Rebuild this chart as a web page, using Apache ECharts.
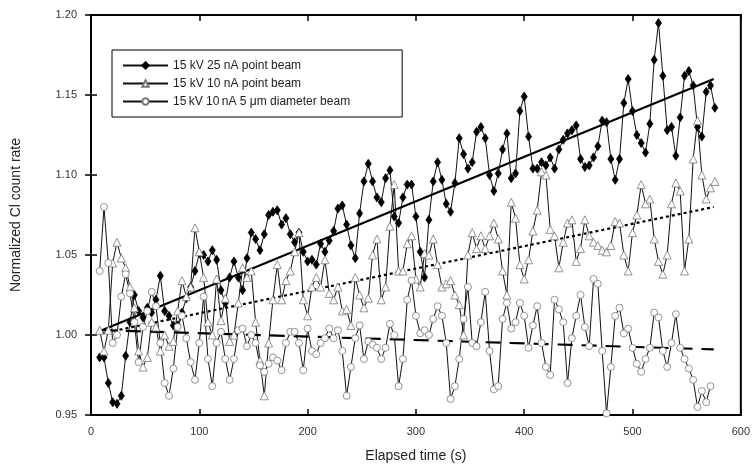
<!DOCTYPE html>
<html>
<head>
<meta charset="utf-8">
<script src="https://cdn.jsdelivr.net/npm/echarts@6.0.0/dist/echarts.min.js"></script>
<style>
  html, body { margin: 0; padding: 0; background: #fff; }
  #main { width: 753px; height: 468px; }
</style>
</head>
<body>
<div id="main"></div>
<script>
// elapsed time (s) of each reading
let times = [8,12,16,20,24,28,32,36,40,44,48,52,56,60,64,68,72,76,80,84,
  88,92,96,100,104,108,112,116,120,124,128,132,136,140,144,148,152,156,160,164,
  168,172,176,180,184,188,192,196,200,204,208,212,216,220,224,228,232,236,240,244,
  248,252,256,260,264,268,272,276,280,284,288,292,296,300,304,308,312,316,320,324,
  328,332,336,340,344,348,352,356,360,364,368,372,376,380,384,388,392,396,400,404,
  408,412,416,420,424,428,432,436,440,444,448,452,456,460,464,468,472,476,480,484,
  488,492,496,500,504,508,512,516,520,524,528,532,536,540,544,548,552,556,560,564,
  568,572,576];

// 15 kV 25 nA point beam
let beam25 = [0.986,0.986,0.970,0.958,0.957,0.962,0.987,1.008,1.025,1.015,
  1.011,1.017,1.014,1.022,1.037,1.015,1.012,1.006,1.006,1.014,
  1.023,1.030,1.040,1.051,1.050,1.046,1.053,1.047,1.028,1.020,
  1.036,1.046,1.036,1.028,1.048,1.064,1.060,1.053,1.063,1.075,
  1.077,1.078,1.069,1.073,1.063,1.058,1.064,1.052,1.046,1.047,
  1.044,1.057,1.052,1.059,1.065,1.079,1.081,1.069,1.056,1.048,
  1.076,1.096,1.107,1.096,1.086,1.083,1.098,1.103,1.074,1.070,
  1.086,1.094,1.094,1.074,1.052,1.036,1.072,1.096,1.108,1.097,
  1.082,1.077,1.095,1.123,1.113,1.104,1.108,1.127,1.130,1.123,
  1.100,1.090,1.101,1.116,1.126,1.098,1.101,1.140,1.149,1.124,
  1.104,1.104,1.108,1.106,1.111,1.104,1.116,1.122,1.126,1.128,
  1.131,1.110,1.105,1.106,1.111,1.118,1.134,1.133,1.110,1.097,
  1.110,1.145,1.160,1.140,1.125,1.120,1.114,1.132,1.172,1.195,
  1.162,1.128,1.130,1.112,1.136,1.162,1.165,1.156,1.130,1.124,
  1.152,1.156,1.142];

// 15 kV 10 nA point beam
let beam10 = [1.003,0.990,1.003,1.045,1.058,1.048,1.042,1.030,1.017,0.990,
  0.980,0.986,1.008,1.005,0.990,1.000,0.993,0.996,1.015,1.034,
  1.024,1.030,1.067,1.052,1.036,1.008,1.000,1.035,1.009,1.023,
  0.996,1.000,1.020,1.042,1.036,1.040,1.008,0.984,0.962,0.995,
  1.022,1.044,1.022,1.034,1.040,1.052,1.064,1.022,1.012,1.030,
  1.036,1.030,1.047,1.026,1.022,1.030,1.015,1.016,1.006,1.036,
  1.025,1.017,1.023,1.050,1.060,1.022,1.030,1.068,1.094,1.040,
  1.040,1.057,1.062,1.035,1.030,1.051,1.050,1.060,1.044,1.030,
  1.032,1.034,1.025,1.019,1.000,1.050,1.064,1.054,1.062,1.054,
  1.062,1.070,1.060,1.040,1.025,1.083,1.073,1.044,1.035,1.047,
  1.065,1.078,1.102,1.100,1.066,1.062,1.042,1.058,1.070,1.072,
  1.046,1.054,1.072,1.062,1.058,1.056,1.053,1.052,1.056,1.071,
  1.070,1.050,1.040,1.064,1.075,1.094,1.082,1.085,1.060,1.046,
  1.038,1.050,1.082,1.095,1.090,1.040,1.060,1.110,1.134,1.100,
  1.085,1.092,1.096];

// 15 kV 10 nA 5 um diameter beam
let beamWide = [1.040,1.080,1.045,0.995,1.000,1.024,1.038,1.026,1.008,0.983,
  1.005,1.015,1.027,1.018,0.995,0.970,0.962,0.979,1.005,1.012,
  0.998,0.983,0.972,0.995,1.024,0.985,0.968,0.995,1.002,0.985,
  0.972,0.985,1.003,1.004,0.993,1.000,0.995,0.981,0.977,0.982,
  0.986,0.984,0.978,0.995,1.002,1.002,0.995,0.978,1.004,0.990,
  0.988,0.995,0.998,1.004,0.998,1.003,0.990,0.962,0.980,0.998,
  1.006,0.985,0.996,0.994,0.992,0.985,0.992,1.007,1.000,0.968,
  0.985,1.022,1.034,1.012,1.001,1.003,1.000,1.010,1.018,1.012,
  0.995,0.960,0.968,0.985,1.010,1.030,0.995,0.993,1.008,1.027,
  0.990,0.966,0.968,1.010,1.020,1.004,1.008,1.020,1.012,0.992,
  1.006,1.018,0.995,0.980,0.975,1.022,1.016,1.008,0.970,0.998,
  1.012,1.025,1.005,0.993,1.035,1.032,0.990,0.951,0.980,1.012,
  1.017,1.001,1.004,0.992,0.982,0.977,0.985,0.992,1.014,1.011,
  0.990,0.980,0.995,1.013,0.992,0.985,0.979,0.972,0.955,0.965,
  0.958,0.968,null];

// fitted trend lines, end points
let fit25 = [[10, 1.003], [575, 1.160]];
let fit10 = [[10, 1.001], [575, 1.080]];
let fitWide = [[10, 1.003], [575, 0.991]];

let names = ['15 kV 25 nA point beam', '15 kV 10 nA point beam', '15\u2009kV 10\u2009nA 5 \u03bcm diameter beam'];
let xTicks = [0, 600, 100];
let yTicks = [0.95, 1.20, 0.05];

let font = '"Liberation Sans", Arial, sans-serif';

function pairs(vals) {
  let out = [];
  for (let i = 0; i < times.length; i++) {
    if (vals[i] != null) out.push([times[i], vals[i]]);
  }
  return out;
}

function dataSeries(name, vals, symbol, size, fill, border) {
  return {
    name: name,
    type: 'line',
    data: pairs(vals),
    symbol: symbol,
    symbolSize: size,
    showAllSymbol: true,
    lineStyle: { color: '#111', width: 1 },
    itemStyle: { color: fill, borderColor: border, borderWidth: 0.8 },
    emphasis: { disabled: true }
  };
}

function fitSeries(pts, type) {
  return {
    type: 'line',
    data: pts,
    symbol: 'none',
    lineStyle: { color: '#000', width: 2.2, type: type },
    z: 3,
    emphasis: { disabled: true }
  };
}

let chart = echarts.init(document.getElementById('main'));

let option = {
  animation: false,
  backgroundColor: '#fff',
  grid: { left: 91, right: 12, top: 15, bottom: 50, show: true, borderColor: '#000', borderWidth: 2 },
  legend: {
    data: names,
    orient: 'vertical',
    left: 112,
    top: 50,
    itemWidth: 45,
    itemHeight: 8,
    itemGap: 5,
    padding: [9, 52, 9, 10],
    borderColor: '#000',
    borderWidth: 1,
    textStyle: { fontFamily: font, fontSize: 12, color: '#222', lineHeight: 13 }
  },
  xAxis: [{
    type: 'value',
    min: xTicks[0], max: xTicks[1], interval: xTicks[2],
    name: 'Elapsed time (s)',
    nameLocation: 'middle',
    nameGap: 34,
    nameTextStyle: { fontFamily: font, fontSize: 14, color: '#222' },
    axisLine: { lineStyle: { color: '#000', width: 2 } },
    axisTick: { inside: true, length: 6, lineStyle: { color: '#000', width: 1.5 } },
    axisLabel: { fontFamily: font, fontSize: 11, color: '#333', margin: 11 },
    splitLine: { show: false }
  }, {
    type: 'value', position: 'top',
    min: xTicks[0], max: xTicks[1], interval: xTicks[2],
    axisLine: { lineStyle: { color: '#000', width: 2 } },
    axisTick: { inside: true, length: 6, lineStyle: { color: '#000', width: 1.5 } },
    axisLabel: { show: false },
    splitLine: { show: false }
  }],
  yAxis: [{
    type: 'value',
    min: yTicks[0], max: yTicks[1], interval: yTicks[2],
    name: 'Normalized Cl count rate',
    nameLocation: 'middle',
    nameGap: 68,
    nameTextStyle: { fontFamily: font, fontSize: 14, color: '#222' },
    axisLine: { lineStyle: { color: '#000', width: 2 } },
    axisTick: { inside: true, length: 6, lineStyle: { color: '#000', width: 1.5 } },
    axisLabel: { fontFamily: font, fontSize: 11, color: '#333', margin: 14, formatter: v => v.toFixed(2) },
    splitLine: { show: false }
  }, {
    type: 'value', position: 'right',
    min: yTicks[0], max: yTicks[1], interval: yTicks[2],
    axisLine: { lineStyle: { color: '#000', width: 2 } },
    axisTick: { inside: true, length: 6, lineStyle: { color: '#000', width: 1.5 } },
    axisLabel: { show: false },
    splitLine: { show: false }
  }],
  series: [
    dataSeries(names[0], beam25, 'diamond', [6, 9], '#000', '#000'),
    dataSeries(names[1], beam10, 'triangle', 8, '#fff', '#777'),
    dataSeries(names[2], beamWide, 'circle', 7, '#fff', '#777'),
    fitSeries(fit25, 'solid'),
    fitSeries(fit10, [3, 3]),
    fitSeries(fitWide, [15, 9])
  ]
};

chart.setOption(option);
</script>
</body>
</html>
